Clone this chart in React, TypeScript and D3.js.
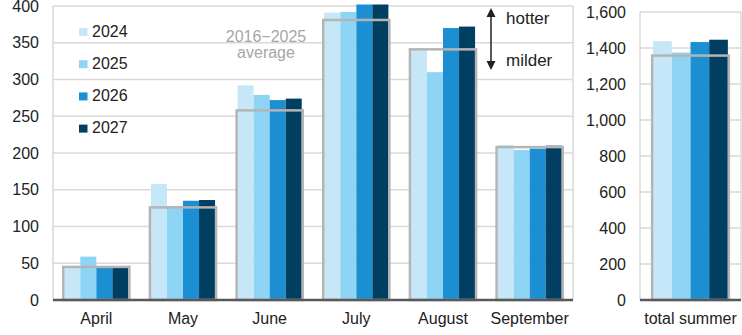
import React from "react";
import * as d3 from "d3";

const months = ["April", "May", "June", "July", "August", "September"];
const years = ["2024", "2025", "2026", "2027"];
const v2024 = [44, 158, 292, 391, 340, 211];
const v2025 = [59, 128, 279, 392, 310, 204];
const v2026 = [44, 135, 272, 406, 370, 206];
const v2027 = [44, 136, 274, 410, 372, 210];
const average = [45, 126, 258, 381, 341, 208];
const totalLabel = ["total summer"];
const totals = [1438, 1375, 1433, 1446];
const totalAverage = 1358;
const leftTicks = [0, 50, 100, 150, 200, 250, 300, 350, 400];
const rightTicks = [0, 200, 400, 600, 800, 1000, 1200, 1400, 1600];

const colors = ["#c6e7f8", "#8ed5f5", "#1b8fd2", "#003f62"];
const series = [v2024, v2025, v2026, v2027];

const FONT = "'Liberation Sans', Arial, sans-serif";

export default function App() {
  const W = 742, H = 335;
  const L = { x0: 53, x1: 573, y0: 300, y1: 6 };
  const R = { x0: 640, x1: 741, y0: 300, y1: 12 };

  const xL = d3.scaleBand().domain(months).range([L.x0, L.x1]).paddingInner(0.26).paddingOuter(0.13);
  const xLi = d3.scaleBand().domain(years).range([0, xL.bandwidth()]);
  const yL = d3.scaleLinear().domain([0, 400]).range([L.y0, L.y1]);

  const xR = d3.scaleBand().domain(totalLabel).range([R.x0, R.x1]).paddingInner(0.26).paddingOuter(0.13);
  const xRi = d3.scaleBand().domain(years).range([0, xR.bandwidth()]);
  const yR = d3.scaleLinear().domain([0, 1600]).range([R.y0, R.y1]);

  const grid = "#d9d9d9";
  const avgStroke = "#b4b4b4";
  const fmt = d3.format(",");

  return (
    <svg width={W} height={H} style={{ position: "absolute", left: 0, top: 0, fontFamily: FONT }}>
      <defs>
        <clipPath id="clipL">
          <rect x={L.x0} y={4.5} width={L.x1 - L.x0} height={L.y0 - 4.5} />
        </clipPath>
      </defs>
      <rect x={0} y={0} width={W} height={H} fill="#fff" />

      {/* Left panel grid */}
      {leftTicks.map((t) => (
        <line key={"gl" + t} x1={L.x0} x2={L.x1} y1={yL(t)} y2={yL(t)} stroke={grid} strokeWidth={1.5} />
      ))}
      <line x1={L.x0} x2={L.x0} y1={L.y1} y2={L.y0} stroke={grid} strokeWidth={1.5} />
      <line x1={L.x1} x2={L.x1} y1={L.y1} y2={L.y0} stroke={grid} strokeWidth={1.5} />
      {leftTicks.map((t) => (
        <text key={"tl" + t} x={39} y={yL(t)} dy="0.35em" textAnchor="end" fontSize={16} fill="#222">
          {t}
        </text>
      ))}

      {/* Left bars */}
      <g clipPath="url(#clipL)">
        {months.map((m, i) =>
          series.map((s, j) => (
            <rect
              key={m + j}
              x={(xL(m) as number) + (xLi(years[j]) as number)}
              y={yL(s[i])}
              width={xLi.bandwidth()}
              height={yL(0) - yL(s[i])}
              fill={colors[j]}
            />
          ))
        )}
      </g>
      {months.map((m, i) => (
        <rect
          key={"avg" + m}
          x={(xL(m) as number) - 1}
          y={yL(average[i])}
          width={xL.bandwidth() + 2}
          height={yL(0) - yL(average[i])}
          fill="none"
          stroke={avgStroke}
          strokeWidth={2.5}
        />
      ))}
      <line x1={L.x0} x2={L.x1} y1={L.y0} y2={L.y0} stroke="#595959" strokeWidth={2.5} />
      {months.map((m) => (
        <text key={"cl" + m} x={(xL(m) as number) + xL.bandwidth() / 2} y={324} textAnchor="middle" fontSize={16} fill="#222">
          {m}
        </text>
      ))}

      {/* Legend */}
      {years.map((y, j) => (
        <g key={"lg" + y}>
          <rect x={79} y={28 + j * 32.2} width={8.5} height={8} fill={colors[j]} />
          <text x={92} y={36.7 + j * 32.2} fontSize={16} fill="#222">
            {y}
          </text>
        </g>
      ))}

      {/* Annotation */}
      <text x={266} y={41.5} textAnchor="middle" fontSize={16} fill="#a6a6a6">
        2016−2025
      </text>
      <text x={266} y={58} textAnchor="middle" fontSize={16} fill="#a6a6a6">
        average
      </text>

      {/* Arrow */}
      <line x1={491} x2={491} y1={14} y2={64} stroke="#222" strokeWidth={1.5} />
      <path d="M491,8 L486.5,17 L495.5,17 Z" fill="#222" />
      <path d="M491,70 L486.5,61 L495.5,61 Z" fill="#222" />
      <text x={506} y={23.5} fontSize={17} fill="#222">
        hotter
      </text>
      <text x={506} y={66} fontSize={17} fill="#222">
        milder
      </text>

      {/* Right panel */}
      {rightTicks.map((t) => (
        <line key={"gr" + t} x1={R.x0} x2={R.x1} y1={yR(t)} y2={yR(t)} stroke={grid} strokeWidth={1.5} />
      ))}
      <line x1={R.x0} x2={R.x0} y1={R.y1} y2={R.y0} stroke={grid} strokeWidth={1.5} />
      <line x1={R.x1} x2={R.x1} y1={R.y1} y2={R.y0} stroke={grid} strokeWidth={1.5} />
      {rightTicks.map((t) => (
        <text key={"tr" + t} x={626} y={yR(t)} dy="0.35em" textAnchor="end" fontSize={16} fill="#222">
          {fmt(t)}
        </text>
      ))}
      {totals.map((v, j) => (
        <rect
          key={"tot" + j}
          x={(xR(totalLabel[0]) as number) + (xRi(years[j]) as number)}
          y={yR(v)}
          width={xRi.bandwidth()}
          height={yR(0) - yR(v)}
          fill={colors[j]}
        />
      ))}
      <rect
        x={(xR(totalLabel[0]) as number) - 1}
        y={yR(totalAverage)}
        width={xR.bandwidth() + 2}
        height={yR(0) - yR(totalAverage)}
        fill="none"
        stroke={avgStroke}
        strokeWidth={2.5}
      />
      <line x1={R.x0} x2={R.x1} y1={R.y0} y2={R.y0} stroke="#595959" strokeWidth={2.5} />
      <text x={(xR(totalLabel[0]) as number) + xR.bandwidth() / 2} y={324} textAnchor="middle" fontSize={16} fill="#222">
        {totalLabel[0]}
      </text>
    </svg>
  );
}
